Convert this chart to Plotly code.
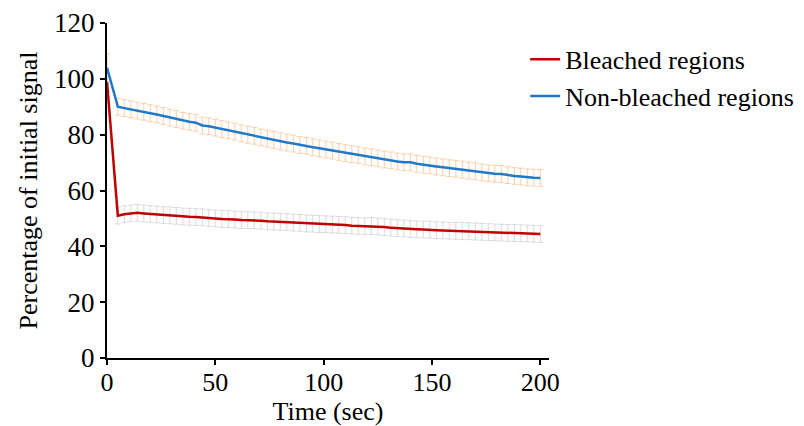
import plotly.graph_objects as go

time = [0] + list(range(5, 201, 3))

bleached = [99.0, 51.0, 51.5, 51.8, 52.0, 51.8, 51.6, 51.4, 51.2, 51.1, 50.9, 50.7, 50.6, 50.5, 50.4,
            50.2, 50.0, 49.8, 49.8, 49.6, 49.4, 49.4, 49.3, 49.2, 49.0, 48.9, 48.8, 48.7, 48.5,
            48.4, 48.2, 48.1, 48.0, 47.9, 47.8, 47.7, 47.6, 47.4, 47.3, 47.2, 47.3, 47.1, 46.9,
            46.7, 46.5, 46.4, 46.2, 46.1, 46.0, 46.0, 45.8, 45.7, 45.6, 45.5, 45.5, 45.4, 45.3,
            45.2, 45.1, 45.0, 44.9, 44.8, 44.8, 44.7, 44.6, 44.5, 44.4]

non_bleached = [104.0, 90.0, 89.5, 89.1, 88.6, 88.2, 87.7, 87.2, 86.7, 86.1, 85.6, 85.0, 84.6, 84.3, 83.3,
                83.0, 82.5, 82.0, 81.5, 81.1, 80.5, 80.0, 79.6, 79.0, 78.6, 78.1, 77.6, 77.2, 76.8,
                76.3, 76.0, 75.5, 75.1, 74.7, 74.3, 73.8, 73.4, 73.0, 72.7, 72.2, 71.9, 71.5, 71.1,
                70.8, 70.4, 70.1, 70.1, 69.6, 69.2, 69.0, 68.6, 68.3, 68.0, 67.8, 67.5, 67.1, 66.9,
                66.5, 66.2, 66.0, 65.9, 65.5, 65.2, 65.0, 64.7, 64.6, 64.5]

bleached_err = [3.0] * len(time)
non_bleached_err = [5.0] + [3.0] * (len(time) - 1)

x_ticks = [0, 50, 100, 150, 200]
y_ticks = [0, 20, 40, 60, 80, 100, 120]

FONT = "Liberation Serif"

fig = go.Figure()
fig.add_trace(go.Scatter(
    x=time, y=bleached, mode="lines", name="Bleached regions",
    line=dict(color="#c00000", width=2.5),
    error_y=dict(type="data", array=bleached_err, color="#d9d9d9", thickness=1, width=3),
))
fig.add_trace(go.Scatter(
    x=time, y=non_bleached, mode="lines", name="Non-bleached regions",
    line=dict(color="#1f78c8", width=2.5),
    error_y=dict(type="data", array=non_bleached_err, color="#f8cfa8", thickness=1, width=3),
))

fig.update_layout(
    width=796, height=418,
    margin=dict(l=99, r=255, t=15, b=68, autoexpand=False),
    paper_bgcolor="white", plot_bgcolor="white",
    font=dict(family=FONT, size=26, color="black"),
    showlegend=True,
    legend=dict(x=0.946, y=0.962, xanchor="left", yanchor="top",
                font=dict(family=FONT, size=26, color="black"),
                itemwidth=30, tracegroupgap=4, bgcolor="rgba(0,0,0,0)"),
    xaxis=dict(range=[0, 204], tickvals=x_ticks, ticktext=[str(v) for v in x_ticks],
               showline=True, linecolor="black", linewidth=2, ticks="outside",
               tickcolor="black", ticklen=5, tickwidth=1.5, showgrid=False, zeroline=False,
               automargin=False, ticklabelstandoff=-5,
               title=dict(text="Time (sec)", font=dict(family=FONT, size=26), standoff=0),
               tickfont=dict(family=FONT, size=26)),
    yaxis=dict(range=[0, 120], tickvals=y_ticks, ticktext=[str(v) for v in y_ticks],
               showline=True, linecolor="black", linewidth=2, ticks="outside",
               tickcolor="black", ticklen=5, tickwidth=1.5, showgrid=False, zeroline=False,
               automargin=False,
               title=dict(text="Percentage of initial signal", font=dict(family=FONT, size=26), standoff=9),
               tickfont=dict(family=FONT, size=27)),
)

fig.write_html("out.html")
